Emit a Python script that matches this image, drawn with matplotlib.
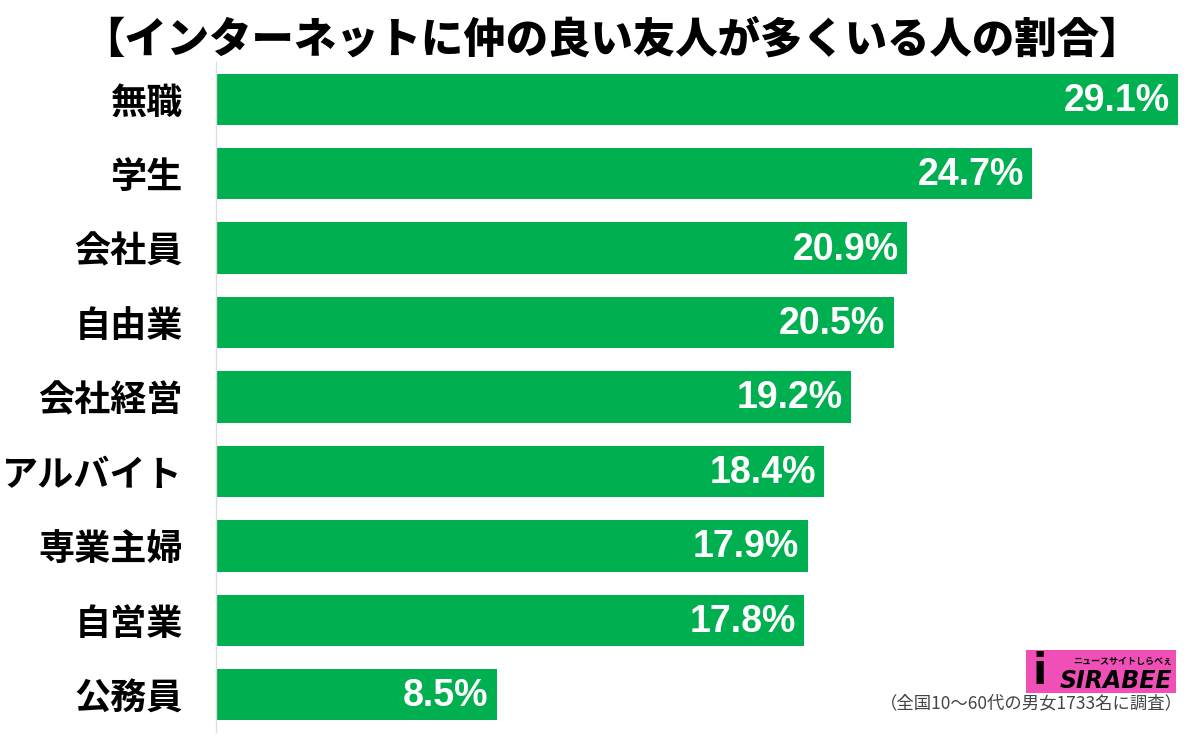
import matplotlib
matplotlib.use('Agg')
import matplotlib.pyplot as plt
from matplotlib.patches import Rectangle

plt.rcParams['font.family'] = ['Noto Sans CJK JP', 'DejaVu Sans']

# data
categories = ['無職', '学生', '会社員', '自由業', '会社経営', 'アルバイト', '専業主婦', '自営業', '公務員']
values = [29.1, 24.7, 20.9, 20.5, 19.2, 18.4, 17.9, 17.8, 8.5]
title = '【インターネットに仲の良い友人が多くいる人の割合】'
note = '（全国10～60代の男女1733名に調査）'

W, H = 1200, 737
fig = plt.figure(figsize=(W / 100, H / 100), dpi=100)

# axes placed in pixel terms
left, right, top, bottom = 216, 1190, 62, 732
ax = fig.add_axes([left / W, 1 - bottom / H, (right - left) / W, (bottom - top) / H])
px_per_unit = 33.05
ax.set_xlim(0, (right - left) / px_per_unit)
ax.set_ylim(len(categories) - 0.5, -0.5)

y = list(range(len(categories)))
ax.barh(y, values, height=0.69, color='#00B050', zorder=2)

for yi, v in zip(y, values):
    ax.text(v - 0.25, yi + 0.02, f'{v}%', ha='right', va='center', color='white',
            fontsize=27, fontweight='bold', family=['Liberation Sans', 'DejaVu Sans'])

ax.set_yticks(y)
ax.set_yticklabels(categories, fontsize=26, fontweight='bold')
ax.tick_params(axis='y', length=0, pad=24)
ax.set_xticks([])
for s in ['top', 'right', 'bottom']:
    ax.spines[s].set_visible(False)
ax.spines['left'].set_color('#dddddd')
ax.spines['left'].set_linewidth(1)

fig.text(612 / W, 1 - 40 / H, title, ha='center', va='center', fontsize=30.5,
         fontweight='heavy', color='black')

# logo approximation
logo = Rectangle((1026 / W, 1 - 693 / H), 150 / W, 43 / H, transform=fig.transFigure,
                 facecolor='#F04FB8', edgecolor='none')
fig.patches.append(logo)
fig.text(1172 / W, 1 - 681 / H, 'SIRABEE', ha='right', va='center', fontsize=17,
         fontweight='heavy', style='italic', color='black', family=['DejaVu Sans'])
fig.text(1172 / W, 1 - 661 / H, 'ニュースサイトしらべぇ', ha='right', va='center', fontsize=6.5,
         fontweight='bold', color='black')
fig.text(1040 / W, 1 - 672 / H, 'i', ha='center', va='center', fontsize=30,
         fontweight='heavy', color='black', family=['DejaVu Sans'])

fig.text(1183 / W, 1 - 703 / H, note, ha='right', va='center', fontsize=12.5, color='#444444')

fig.savefig('out.png', dpi=100, facecolor='white')
